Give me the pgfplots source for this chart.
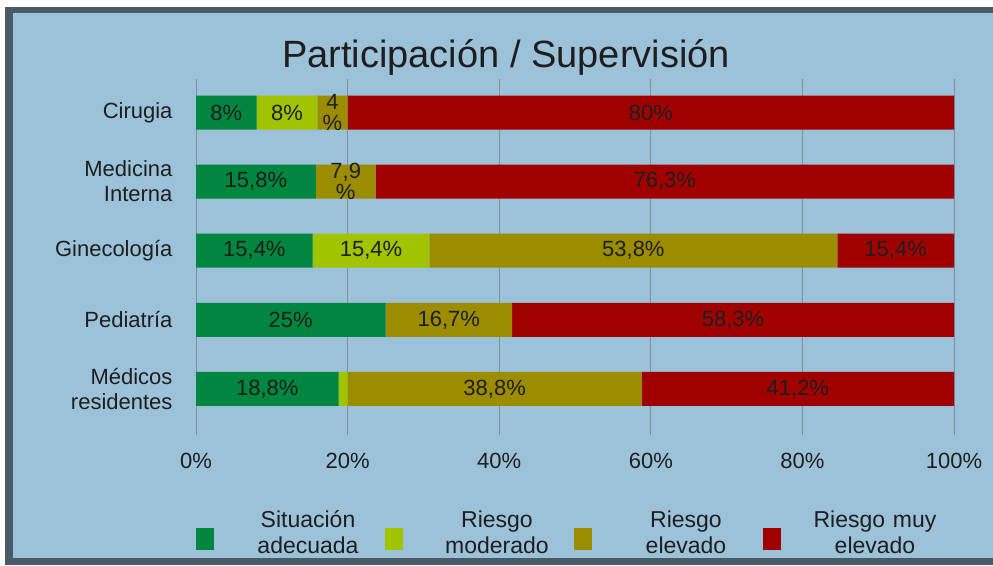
\documentclass[border=0pt]{standalone}
\usepackage{pgfplots}
\pgfplotsset{compat=1.18}
\usepackage{fontspec}
\setmainfont{Liberation Sans}
\definecolor{bgblue}{RGB}{156,194,218}
\definecolor{frame}{RGB}{74,90,102}
\definecolor{cgreen}{RGB}{0,134,62}
\definecolor{cyell}{RGB}{160,196,0}
\definecolor{colive}{RGB}{156,140,0}
\definecolor{cred}{RGB}{160,0,0}
\definecolor{gridc}{RGB}{125,145,160}
\definecolor{txt}{RGB}{30,30,30}
\newcommand{\twol}[2]{\begin{tabular}{@{}c@{}}#1\\#2\end{tabular}}
\begin{document}
\begin{tikzpicture}[x=1pt,y=1pt]
\path[use as bounding box] (0,0) rectangle (993,565);
\fill[white] (0,0) rectangle (993,565);
\fill[frame] (5,0) rectangle (993,558);
\fill[bgblue] (13,7) rectangle (993,552);
\begin{axis}[
  at={(196pt,130pt)}, anchor=south west,
  scale only axis, width=758pt, height=355pt,
  xbar stacked, bar width=34pt,
  xmin=0, xmax=100, ymin=-0.667, ymax=4.478,
  xtick={0,20,40,60,80,100},
  xticklabels={0\%,20\%,40\%,60\%,80\%,100\%},
  ytick={0,1,2,3,4},
  yticklabels={{Médicos\\residentes},Pediatría,Ginecología,{Medicina\\Interna},Cirugia},
  major tick length=0pt,
  axis line style={draw=none},
  xmajorgrids, grid style={gridc, line width=0.8pt},
  xticklabel style={font=\fontsize{22}{25}\selectfont, text=txt, yshift=-15pt},
  yticklabel style={font=\fontsize{22}{25}\selectfont, text=txt, align=right, xshift=-20pt},
  title={Participación / Supervisión},
  title style={at={(axis description cs:0.409,1.017)}, anchor=base, font=\fontsize{38}{40}\selectfont, text=txt},
  legend columns=4,
  legend style={at={(axis description cs:0,-0.263)}, anchor=west, draw=none, fill=none,
    inner sep=0pt, outer sep=0pt, column sep=0pt,
    font=\fontsize{23}{26}\selectfont, text=txt,
    nodes={text width=130pt, align=center, inner xsep=0pt},
    /tikz/every odd column/.append style={column sep=29pt},
    /tikz/every even column/.append style={column sep=12pt}},
  legend image code/.code={\draw[#1,draw=none] (0pt,-24pt) rectangle (18pt,-2pt);},
]
\addplot[fill=cgreen, draw=none] coordinates {(18.8,0) (25,1) (15.4,2) (15.8,3) (8,4)};
\addlegendentry{\twol{Situación}{adecuada}}
\addplot[fill=cyell, draw=none] coordinates {(1.2,0) (0,1) (15.4,2) (0,3) (8,4)};
\addlegendentry{\twol{Riesgo}{moderado}}
\addplot[fill=colive, draw=none] coordinates {(38.8,0) (16.7,1) (53.8,2) (7.9,3) (4,4)};
\addlegendentry{\twol{Riesgo}{elevado}}
\addplot[fill=cred, draw=none] coordinates {(41.2,0) (58.3,1) (15.4,2) (76.3,3) (80,4)};
\addlegendentry{\twol{Riesgo muy}{elevado}}
\end{axis}
\begin{axis}[
  at={(196pt,130pt)}, anchor=south west,
  scale only axis, width=758pt, height=355pt,
  xmin=0, xmax=100, ymin=-0.667, ymax=4.478,
  hide axis, clip=false,
]
\addplot[only marks, mark=none, nodes near coords, point meta=explicit symbolic,
  every node near coord/.style={anchor=center, align=center, text=txt,
    font=\fontsize{22}{21}\selectfont, inner sep=0pt}]
 coordinates {
 (4,4) [8\%] (12,4) [8\%] (18,4) [4\\\%] (60,4) [80\%]
 (7.9,3) [15,8\%] (19.75,3) [7,9\\\%] (61.85,3) [76,3\%]
 (7.7,2) [15,4\%] (23.1,2) [15,4\%] (57.7,2) [53,8\%] (92.3,2) [15,4\%]
 (12.5,1) [25\%] (33.35,1) [16,7\%] (70.85,1) [58,3\%]
 (9.4,0) [18,8\%] (39.4,0) [38,8\%] (79.4,0) [41,2\%]
 };
\end{axis}
\end{tikzpicture}
\end{document}
